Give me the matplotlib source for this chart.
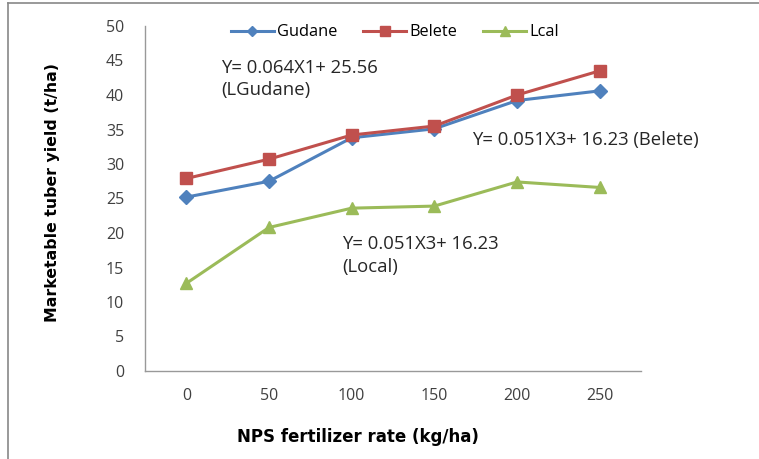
import matplotlib
matplotlib.use("Agg")
import matplotlib.pyplot as plt
from matplotlib.lines import Line2D

categories = ["0", "50", "100", "150", "200", "250"]
gudane = [25.2, 27.5, 33.8, 35.1, 39.2, 40.6]
belete = [27.9, 30.7, 34.2, 35.5, 40.0, 43.5]
local = [12.7, 20.8, 23.6, 23.9, 27.4, 26.6]
yticks = [0, 5, 10, 15, 20, 25, 30, 35, 40, 45, 50]

plt.rcParams['font.family'] = ['Open Sans', 'DejaVu Sans']

W, H = 759, 459
fig = plt.figure(figsize=(W / 100, H / 100), dpi=100)
ax = fig.add_axes([145 / W, 1 - 371 / H, (641 - 145) / W, (371 - 26) / H])

x = list(range(len(categories)))
ax.plot(x, gudane, color="#4F81BD", lw=2.2, marker="D", ms=7, label="Gudane")
ax.plot(x, belete, color="#C0504D", lw=2.2, marker="s", ms=9, label="Belete")
ax.plot(x, local, color="#9BBB59", lw=2.2, marker="^", ms=9, label="Lcal")

ax.set_xlim(-0.5, 5.5)
ax.set_ylim(0, 50)
ax.set_xticks(x)
ax.set_xticklabels(categories)
ax.set_yticks(yticks)
for s in ["top", "right"]:
    ax.spines[s].set_visible(False)
for s in ["left", "bottom"]:
    ax.spines[s].set_color("#999999")
    ax.spines[s].set_linewidth(1.0)
ax.tick_params(axis="both", length=0, labelsize=11.5, colors="#404040")
ax.tick_params(axis="x", pad=12)
ax.tick_params(axis="y", pad=15)

fig.text(53 / W, 1 - 192 / H, "Marketable tuber yield (t/ha)", rotation=90,
         ha="center", va="center", fontsize=11.3, fontweight="bold",
         family="DejaVu Sans")
fig.text(358 / W, 1 - 437 / H, "NPS fertilizer rate (kg/ha)",
         ha="center", va="center", fontsize=12, fontweight="bold",
         family="DejaVu Sans")

leg = ax.legend(loc="center", bbox_to_anchor=(395 / W, 1 - 32.5 / H),
                bbox_transform=fig.transFigure, ncol=3, frameon=False,
                fontsize=11.8, handlelength=2.6, columnspacing=1.6, handletextpad=0.2,
                markerscale=0.8)

tc = "#262626"
fs = 13.3
fig.text(221 / W, 1 - 68 / H, "Y= 0.064X1+ 25.56", ha="left", va="center", fontsize=fs, color=tc)
fig.text(221 / W, 1 - 90 / H, "(LGudane)", ha="left", va="center", fontsize=fs, color=tc)
fig.text(472 / W, 1 - 140 / H, "Y= 0.051X3+ 16.23 (Belete)", ha="left", va="center", fontsize=fs, color=tc)
fig.text(342 / W, 1 - 244 / H, "Y= 0.051X3+ 16.23", ha="left", va="center", fontsize=fs, color=tc)
fig.text(342 / W, 1 - 267 / H, "(Local)", ha="left", va="center", fontsize=fs, color=tc)

# outer frame lines
fig.add_artist(Line2D([8 / W, 8 / W], [0, 1 - 3 / H], transform=fig.transFigure, color="#888888", lw=1.2))
fig.add_artist(Line2D([8 / W, 1], [1 - 3 / H, 1 - 3 / H], transform=fig.transFigure, color="#888888", lw=1.2))

fig.savefig("out.png", dpi=100)
